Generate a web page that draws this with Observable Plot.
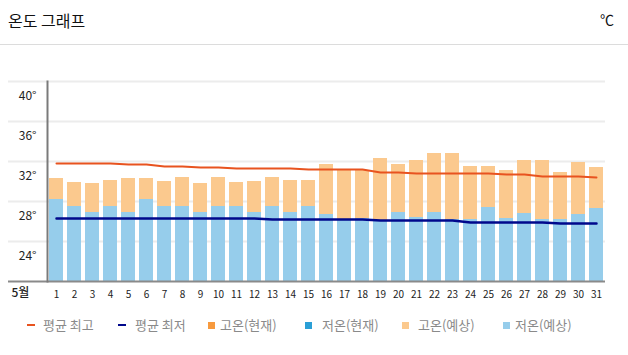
<!DOCTYPE html>
<html>
<head>
<meta charset="utf-8">
<script src="https://cdn.jsdelivr.net/npm/d3@7"></script>
<script src="https://cdn.jsdelivr.net/npm/@observablehq/plot@0.6"></script>
<style>
  body { margin: 0; background: #fff; font-family: "Noto Sans CJK KR", "Noto Sans", sans-serif; }
  #wrap { position: relative; width: 628px; height: 355px; overflow: hidden; }
  #header { position: relative; height: 44px; border-bottom: 1px solid #dcdcdc; }
  #title { position: absolute; left: 8px; top: 8px; font-size: 16px; color: #111; }
  #unit { position: absolute; right: 14px; top: 9px; font-size: 14px; color: #111; }
  #legend { position: absolute; left: 0; top: 310px; width: 628px; height: 30px; font-size: 13px; color: #8a8a8a; }
  .mk { position: absolute; }
  .lt { position: absolute; top: 6px; line-height: 18px; white-space: nowrap; }
</style>
</head>
<body>
<div id="wrap">
  <div id="header"><span id="title">온도 그래프</span><span id="unit">℃</span></div>
  <div id="chart"></div>
  <div id="legend"></div>
</div>
<script>
const days = ["1","2","3","4","5","6","7","8","9","10","11","12","13","14","15","16","17","18","19","20","21","22","23","24","25","26","27","28","29","30","31"];
const highForecast = [30.3,29.9,29.8,30.1,30.3,30.3,30.0,30.4,29.8,30.4,29.9,30.0,30.4,30.1,30.1,31.7,31.1,31.1,32.3,31.7,32.1,32.8,32.8,31.5,31.5,31.1,32.1,32.1,30.9,31.9,31.4];
const lowForecast = [28.2,27.5,26.9,27.5,26.9,28.2,27.5,27.5,26.9,27.5,27.5,26.9,27.5,26.9,27.5,26.7,26.1,26.3,26.1,26.9,26.4,26.9,26.2,26.2,27.4,26.3,26.8,26.2,26.2,26.7,27.3];
const avgHigh = [31.8,31.8,31.8,31.8,31.7,31.7,31.5,31.5,31.4,31.4,31.3,31.3,31.3,31.3,31.2,31.2,31.2,31.2,30.9,30.9,30.8,30.8,30.8,30.8,30.8,30.7,30.7,30.5,30.5,30.5,30.4];
const avgLow = [26.3,26.3,26.3,26.3,26.3,26.3,26.3,26.3,26.3,26.3,26.3,26.3,26.2,26.2,26.2,26.2,26.2,26.2,26.1,26.1,26.1,26.1,26.1,25.9,25.9,25.9,25.9,25.9,25.8,25.8,25.8];
const yTicks = [24, 28, 32, 36, 40];
const monthLabel = "5월";
const legendItems = [
  {label: "평균 최고", color: "#e8531f", kind: "line"},
  {label: "평균 최저", color: "#00088c", kind: "line"},
  {label: "고온(현재)", color: "#f79a3e", kind: "box"},
  {label: "저온(현재)", color: "#2b9fd6", kind: "box"},
  {label: "고온(예상)", color: "#fbc98e", kind: "box"},
  {label: "저온(예상)", color: "#96cdeb", kind: "box"}
];

const rows = days.map((d, i) => ({day: d, high: highForecast[i], low: lowForecast[i], ah: avgHigh[i], al: avgLow[i]}));

const chart = Plot.plot({
  width: 628,
  height: 265,
  marginTop: 36,
  marginBottom: 29,
  marginLeft: 8,
  marginRight: 23,
  style: {fontFamily: "'Noto Sans CJK KR', sans-serif", background: "transparent"},
  x: {type: "band", domain: days, range: [47, 605], paddingInner: 0.25, paddingOuter: 0.125, axis: null},
  y: {domain: [20, 40], axis: null},
  marks: [
    Plot.ruleY(yTicks, {stroke: "#ececec", strokeWidth: 2}),
    Plot.barY(rows, {x: "day", y1: 20, y2: "high", fill: legendItems[4].color}),
    Plot.barY(rows, {x: "day", y1: 20, y2: "low", fill: legendItems[5].color}),
    Plot.lineY(rows, {x: "day", y: "ah", stroke: legendItems[0].color, strokeWidth: 2}),
    Plot.lineY(rows, {x: "day", y: "al", stroke: legendItems[1].color, strokeWidth: 2.5}),
    Plot.ruleY([20], {stroke: "#8a8a8a", strokeWidth: 2}),
    Plot.frame({anchor: "left", stroke: "#7a7a7a", strokeWidth: 2, dx: 39}),
    Plot.text(yTicks, {y: d => d, text: d => d + "°", frameAnchor: "left", dx: 28, dy: 15, textAnchor: "end", fontSize: 12, fill: "#222"}),
    Plot.axisX({tickSize: 0, tickPadding: 9, fontSize: 10, color: "#222", label: null}),
    Plot.text([monthLabel], {frameAnchor: "bottom-left", dx: 3, dy: 15, textAnchor: "start", fontSize: 12, fontWeight: 500, fill: "#222"})
  ]
});
document.getElementById("chart").appendChild(chart);

const markerX = [27, 118, 208, 305, 402, 503];
const textX = [43, 135, 220, 322, 418, 515];
const legend = document.getElementById("legend");
legendItems.forEach((it, i) => {
  const m = document.createElement("div");
  m.className = "mk";
  if (it.kind === "line") {
    m.style.cssText = `left:${markerX[i]}px;top:14px;width:8px;height:2px;background:${it.color}`;
  } else {
    m.style.cssText = `left:${markerX[i]}px;top:12px;width:7px;height:7px;background:${it.color}`;
  }
  legend.appendChild(m);
  const t = document.createElement("div");
  t.className = "lt";
  t.style.left = textX[i] + "px";
  t.textContent = it.label;
  legend.appendChild(t);
});
</script>
</body>
</html>
